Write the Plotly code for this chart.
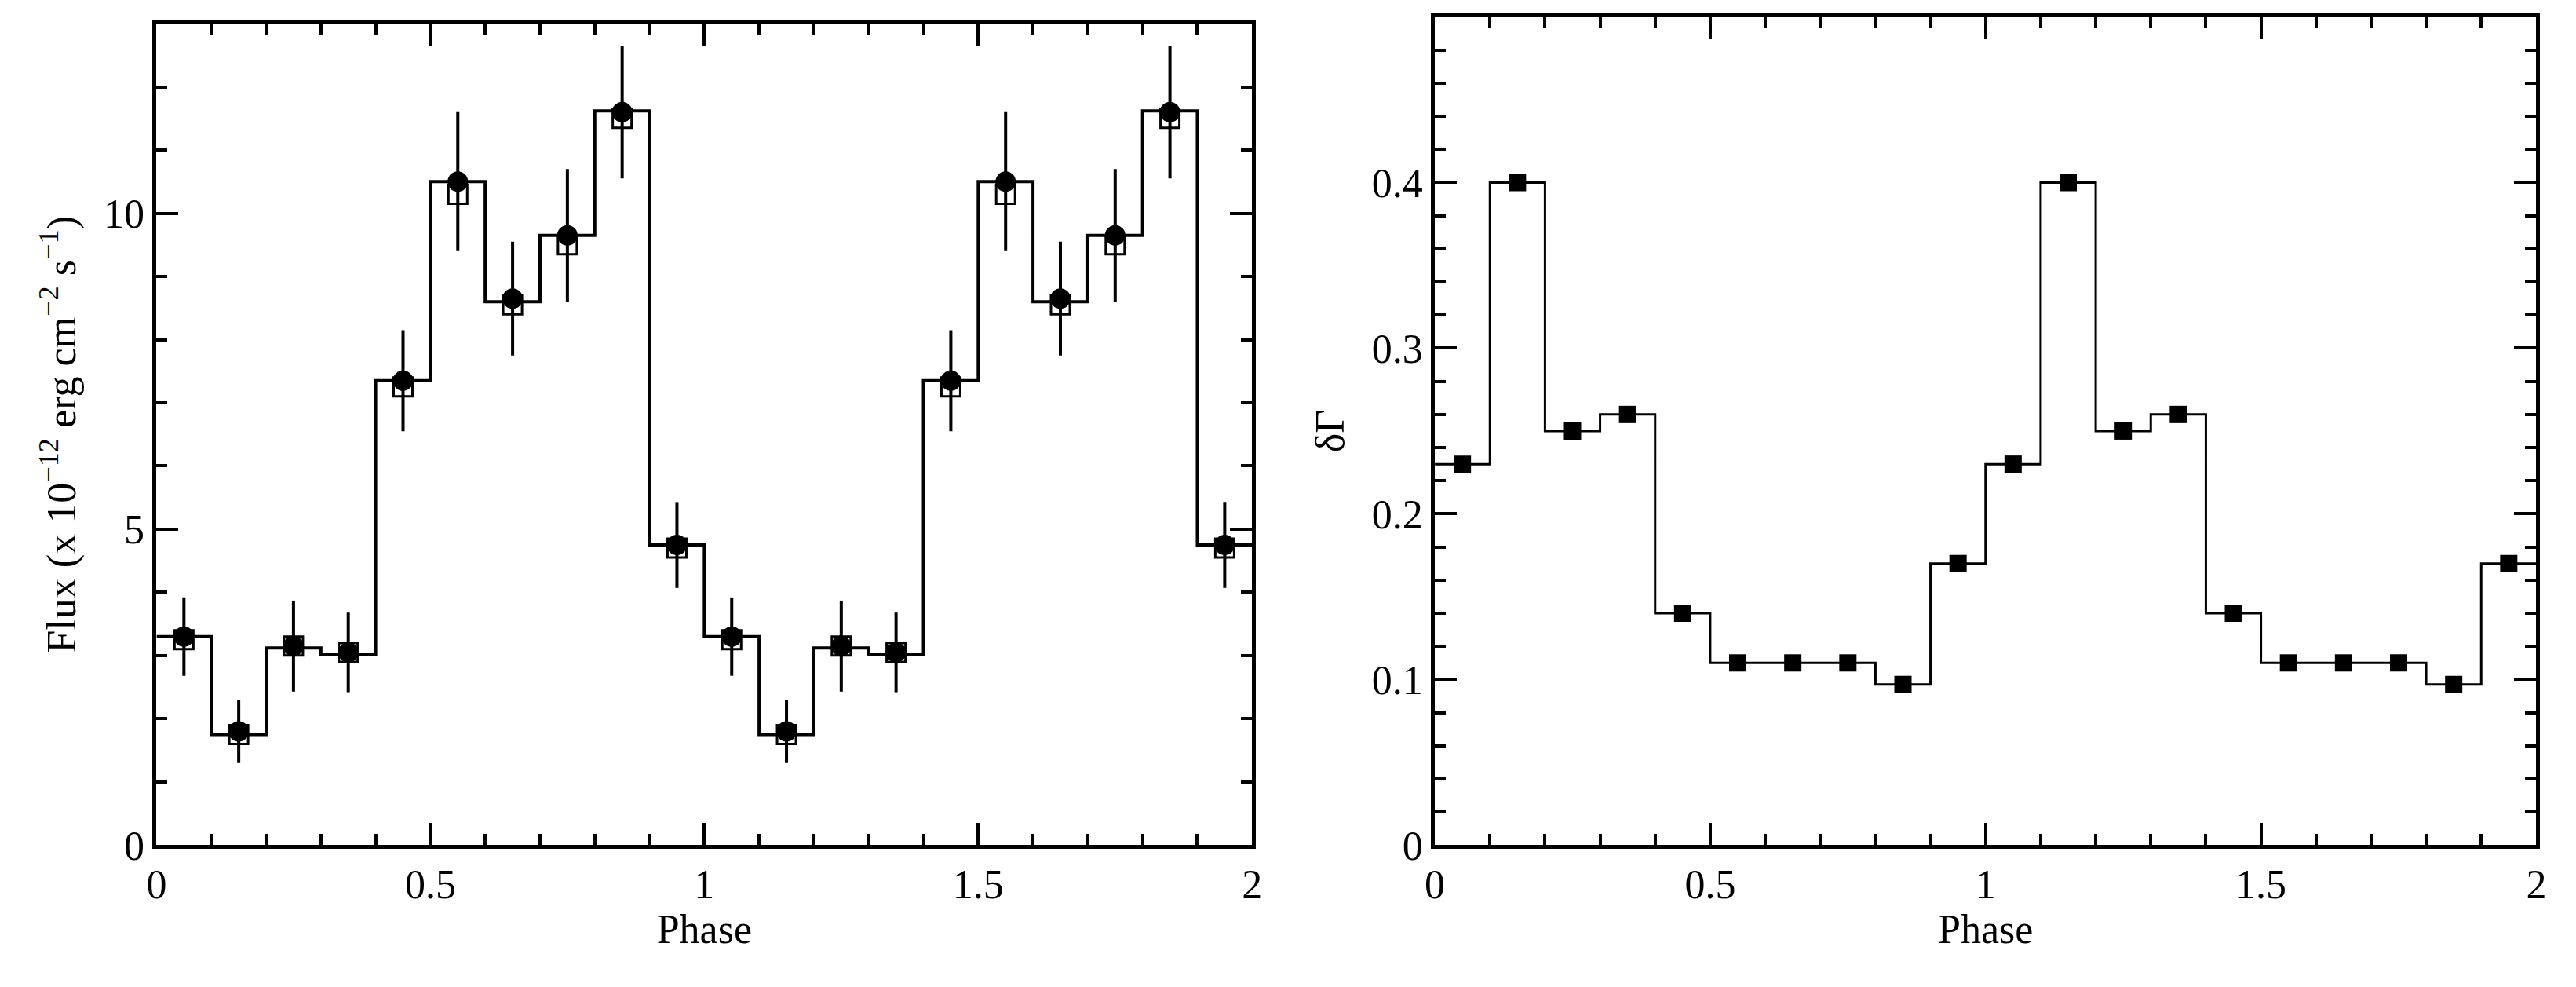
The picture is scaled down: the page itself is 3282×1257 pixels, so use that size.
import plotly.graph_objects as go

phase = [0.05 + 0.1 * i for i in range(20)]
edges = [0.1 * i for i in range(21)]
flux_circ = [3.3, 1.8, 3.15, 3.05, 7.35, 10.5, 8.65, 9.65, 11.6, 4.75] * 2
flux_err = [0.62, 0.5, 0.72, 0.63, 0.8, 1.1, 0.9, 1.05, 1.05, 0.68] * 2
flux_sq = [3.25, 1.75, 3.15, 3.05, 7.25, 10.3, 8.55, 9.5, 11.5, 4.7] * 2
flux_step = [3.3, 1.75, 3.12, 3.02, 7.35, 10.5, 8.6, 9.65, 11.62, 4.75] * 2
dgam = [0.23, 0.40, 0.25, 0.26, 0.14, 0.11, 0.11, 0.11, 0.097, 0.17] * 2

fig = go.Figure()
fig.add_trace(go.Scatter(x=edges, y=flux_step + [flux_step[-1]], mode="lines",
                         line=dict(shape="hv", color="black", width=4), xaxis="x", yaxis="y"))
fig.add_trace(go.Scatter(x=phase, y=flux_sq, mode="markers",
                         marker=dict(symbol="square-open", size=24, color="black", line=dict(width=3)),
                         xaxis="x", yaxis="y"))
fig.add_trace(go.Scatter(x=phase, y=flux_circ, mode="markers",
                         error_y=dict(type="data", array=flux_err, color="black", thickness=4, width=0),
                         marker=dict(symbol="circle", size=26, color="black"), xaxis="x", yaxis="y"))
fig.add_trace(go.Scatter(x=edges, y=dgam + [dgam[-1]], mode="lines",
                         line=dict(shape="hv", color="black", width=3), xaxis="x2", yaxis="y2"))
fig.add_trace(go.Scatter(x=phase, y=dgam, mode="markers",
                         marker=dict(symbol="square", size=22, color="black"), xaxis="x2", yaxis="y2"))

font = dict(family="Liberation Serif", size=52, color="black")
common = dict(showline=True, linecolor="black", linewidth=5, mirror="ticks", ticks="inside",
              ticklen=28, tickwidth=4, tickcolor="black", showgrid=False, zeroline=False,
              tickfont=font)
fig.update_layout(
    width=3282, height=1257, margin=dict(l=0, r=0, t=0, b=0),
    plot_bgcolor="white", paper_bgcolor="white", showlegend=False, font=font,
    xaxis=dict(common, domain=[0.0548, 0.4835], range=[0, 2], tickvals=[0, 0.5, 1, 1.5, 2],
               ticktext=["0", "0.5", "1", "1.5", "2"],
               minor=dict(dtick=0.1, ticks="inside", ticklen=14, tickwidth=4, tickcolor="black"),
               title=dict(text="Phase", font=font, standoff=8), anchor="y"),
    yaxis=dict(common, domain=[0.130, 0.982], range=[0, 13], tickvals=[0, 5, 10],
               minor=dict(dtick=1, ticks="inside", ticklen=14, tickwidth=4, tickcolor="black"),
               title=dict(text="Flux (x 10<sup>−12</sup> erg cm<sup>−2</sup> s<sup>−1</sup>)", font=font, standoff=20),
               anchor="x"),
    xaxis2=dict(common, domain=[0.555, 0.986], range=[0, 2], tickvals=[0, 0.5, 1, 1.5, 2],
                ticktext=["0", "0.5", "1", "1.5", "2"],
                minor=dict(dtick=0.1, ticks="inside", ticklen=14, tickwidth=4, tickcolor="black"),
                title=dict(text="Phase", font=font, standoff=8), anchor="y2"),
    yaxis2=dict(common, domain=[0.130, 0.989], range=[0, 0.5], tickvals=[0, 0.1, 0.2, 0.3, 0.4, 0.5],
                ticktext=["0", "0.1", "0.2", "0.3", "0.4", "0.5"],
                minor=dict(dtick=0.02, ticks="inside", ticklen=14, tickwidth=4, tickcolor="black"),
                title=dict(text="δΓ", font=font, standoff=20), anchor="x2"),
)
fig.write_html("out.html")
